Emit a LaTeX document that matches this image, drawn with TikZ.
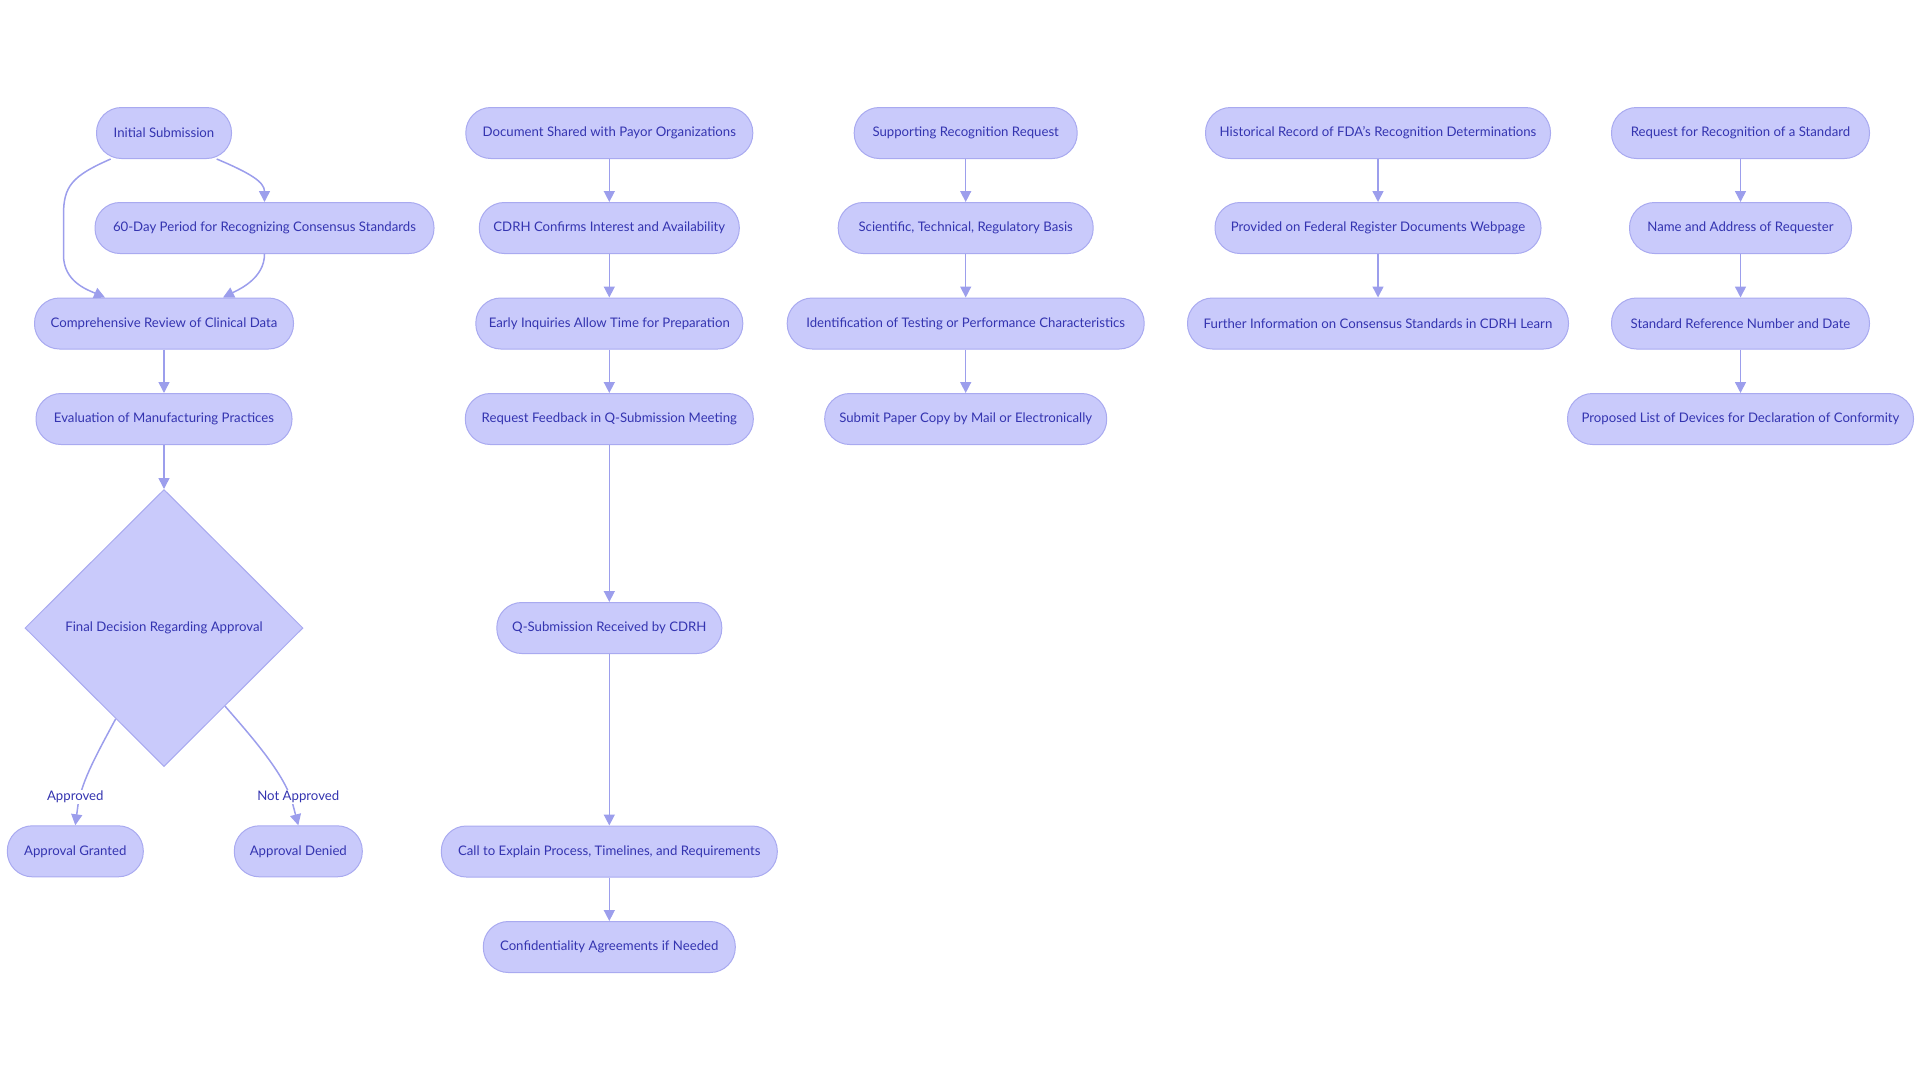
\documentclass[tikz,border=0pt]{standalone}
\usepackage{fontspec}
\setmainfont{Lato}
\usetikzlibrary{shapes.geometric,arrows.meta}
\definecolor{boxfill}{HTML}{C9CAFB}
\definecolor{boxline}{HTML}{A9AAF0}
\definecolor{boxtext}{HTML}{3434B0}
\definecolor{linkcol}{HTML}{9C9EEC}
\begin{document}
\begin{tikzpicture}[x=1pt,y=-1pt,
  pill/.style={draw=boxline,fill=boxfill,line width=1pt,rounded corners=25pt,
    minimum height=51pt,inner sep=0pt,text=boxtext,font=\fontsize{13.2}{15}\selectfont},
  decision/.style={diamond,draw=boxline,fill=boxfill,line width=1pt,inner sep=0pt,
    minimum width=278pt,minimum height=277pt,text=boxtext,font=\fontsize{13.2}{15}\selectfont},
  link/.style={draw=linkcol,line width=1.5pt,-{Triangle[width=11pt,length=11pt]}},
  lbl/.style={fill=white,text=boxtext,inner sep=1pt,font=\fontsize{13.2}{15}\selectfont}]
\useasboundingbox (0,0) rectangle (1920,1080);

% Column 1
\node[pill,minimum width=135pt] (ini) at (164,133) {Initial Submission};
\node[pill,minimum width=339pt] (sixty) at (264.5,228) {60-Day Period for Recognizing Consensus Standards};
\node[pill,minimum width=259pt] (comp) at (164,323.5) {Comprehensive Review of Clinical Data};
\node[pill,minimum width=256pt] (eval) at (164,419) {Evaluation of Manufacturing Practices};
\node[decision] (dec) at (164,628) {Final Decision Regarding Approval};
\node[pill,minimum width=136pt] (grant) at (75.3,851.3) {Approval Granted};
\node[pill,minimum width=128pt] (deny) at (298.3,851.3) {Approval Denied};

% Column 2
\node[pill,minimum width=287pt] (doc) at (609.3,133) {Document Shared with Payor Organizations};
\node[pill,minimum width=260pt] (conf) at (609.3,228) {CDRH Confirms Interest and Availability};
\node[pill,minimum width=267pt] (early) at (609.3,323.5) {Early Inquiries Allow Time for Preparation};
\node[pill,minimum width=288pt] (req) at (609.3,419) {Request Feedback in Q-Submission Meeting};
\node[pill,minimum width=225pt] (qsub) at (609.3,628) {Q-Submission Received by CDRH};
\node[pill,minimum width=336pt] (call) at (609.3,851.5) {Call to Explain Process, Timelines, and Requirements};
\node[pill,minimum width=252pt] (confid) at (609.3,947) {Confidentiality Agreements if Needed};

% Column 3
\node[pill,minimum width=223pt] (supp) at (965.7,133) {Supporting Recognition Request};
\node[pill,minimum width=255pt] (sci) at (965.7,228) {Scientific, Technical, Regulatory Basis};
\node[pill,minimum width=357pt] (ident) at (965.7,323.5) {Identification of Testing or Performance Characteristics};
\node[pill,minimum width=282pt] (paper) at (965.7,419) {Submit Paper Copy by Mail or Electronically};

% Column 4
\node[pill,minimum width=345pt] (hist) at (1378,133) {Historical Record of FDA's Recognition Determinations};
\node[pill,minimum width=326pt] (prov) at (1378,228) {Provided on Federal Register Documents Webpage};
\node[pill,minimum width=381pt] (furth) at (1378,323.5) {Further Information on Consensus Standards in CDRH Learn};

% Column 5
\node[pill,minimum width=258pt] (rfr) at (1740.5,133) {Request for Recognition of a Standard};
\node[pill,minimum width=222pt] (name) at (1740.5,228) {Name and Address of Requester};
\node[pill,minimum width=258pt] (sref) at (1740.5,323.5) {Standard Reference Number and Date};
\node[pill,minimum width=346pt] (prop) at (1740.5,419) {Proposed List of Devices for Declaration of Conformity};

% Column 1 links
\draw[link] ([xshift=52.7pt]ini.south) .. controls (250,173) and (264.5,182) .. (sixty.north);
\draw[link] ([xshift=-53.3pt]ini.south) .. controls (72,176) and (63.5,186) .. (63.5,215)
   -- (63.5,255) .. controls (63.5,282) and (88,290) .. ([xshift=-59pt]comp.north);
\draw[link] (sixty.south) .. controls (264.5,278) and (240,289) .. ([xshift=59pt]comp.north);
\draw[link] (comp) -- (eval);
\draw[link] (eval) -- (dec.north);
\draw[link] (dec.242.4) .. controls (98,752) and (82,780) .. (78,805) -- (grant.north);
\draw[link] (dec.308.8) .. controls (250,735) and (286,775) .. (293,805) -- (deny.north);
\node[lbl] (lapp) at (75.3,796.7) {Approved};
\node[lbl] (lnot) at (298.3,796.7) {Not Approved};

% Column 2 links
\draw[link] (doc) -- (conf);
\draw[link] (conf) -- (early);
\draw[link] (early) -- (req);
\draw[link] (req) -- (qsub);
\draw[link] (qsub) -- (call);
\draw[link] (call) -- (confid);

% Column 3 links
\draw[link] (supp) -- (sci);
\draw[link] (sci) -- (ident);
\draw[link] (ident) -- (paper);

% Column 4 links
\draw[link] (hist) -- (prov);
\draw[link] (prov) -- (furth);

% Column 5 links
\draw[link] (rfr) -- (name);
\draw[link] (name) -- (sref);
\draw[link] (sref) -- (prop);
\end{tikzpicture}
\end{document}
